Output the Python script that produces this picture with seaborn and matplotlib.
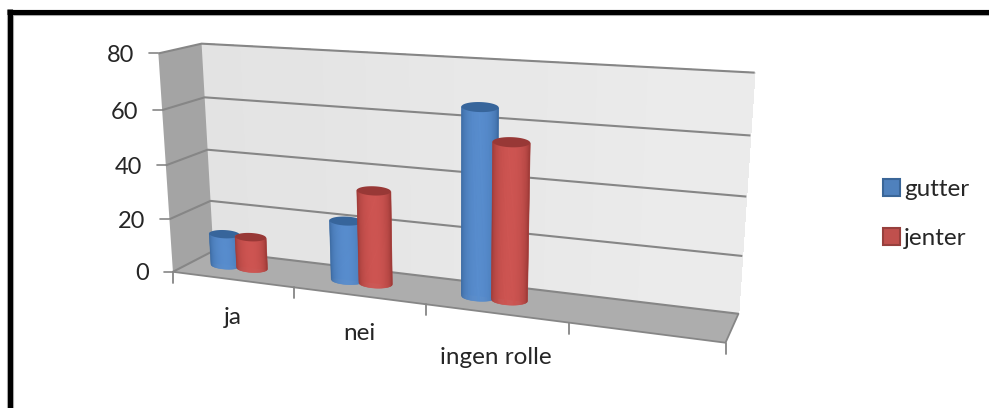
import numpy as np
import pandas as pd
import seaborn as sns
import matplotlib
matplotlib.use("Agg")
import matplotlib.pyplot as plt
from matplotlib.transforms import Transform
from matplotlib.colors import to_rgb

# Survey answers, in percent, per category and group
categories = ["ja", "nei", "ingen rolle", " "]
gutter = [12, 22, 66, 0]
jenter = [12, 34, 55, 0]
y_ticks = [0, 20, 40, 60, 80]
group_names = ["gutter", "jenter"]

BLUE = "#4F81BD"
RED = "#C0504D"
GRID = "#868686"
INK = "#262626"

# Box coordinates (category position, depth, value fraction) and where they land on the canvas,
# used to solve the camera of the oblique 3D view.
box_ref = np.array([
    [0, 0, 0, 174, 272], [0, 0, .25, 169, 219], [0, 0, .5, 166, 166], [0, 0, .75, 162, 110], [0, 0, 1, 158, 54],
    [0, 1, 0, 213, 253], [0, 1, .25, 211, 200], [0, 1, .5, 207, 149], [0, 1, .75, 205, 97], [0, 1, 1, 202, 43],
    [4, 1, 0, 738, 313], [4, 1, .25, 742, 256], [4, 1, .5, 747, 197], [4, 1, .75, 751, 136], [4, 1, 1, 754, 73],
    [4, 0, 0, 727, 343], [1, 0, 0, 294, 287], [2, 0, 0, 426, 304], [3, 0, 0, 568, 322],
], dtype=float)

# Clusters sit a little left of the slot centre
SLOT_SHIFT = 0.39


def solve_camera(ref):
    rows, rhs = [], []
    for X, Y, Z, u, v in ref:
        rows.append([X, Y, Z, 1, 0, 0, 0, 0, -u * X, -u * Y, -u * Z])
        rhs.append(u)
        rows.append([0, 0, 0, 0, X, Y, Z, 1, -v * X, -v * Y, -v * Z])
        rhs.append(v)
    sol = np.linalg.lstsq(np.array(rows), np.array(rhs), rcond=None)[0]
    return np.append(sol, 1).reshape(3, 4)


CAM = solve_camera(box_ref)


def project(x, depth, frac):
    pts = np.stack([np.asarray(x, float), np.asarray(depth, float), np.asarray(frac, float),
                    np.ones_like(np.asarray(x, float))], axis=-1)
    h = pts @ CAM.T
    return h[..., :2] / h[..., 2:3]


class BarPlane(Transform):
    """Maps (category position, value) onto the mid-depth plane of the 3D box."""
    input_dims = output_dims = 2
    is_separable = False
    has_inverse = False

    def transform_non_affine(self, values):
        values = np.asarray(values, float)
        return project(values[:, 0] + SLOT_SHIFT, np.full(len(values), 0.5), values[:, 1] / 80)


sns.set_theme(style="white")
plt.rcParams["font.family"] = ["Lato", "DejaVu Sans"]
plt.rcParams["text.color"] = INK

frame = pd.DataFrame({
    "category": categories * 2,
    "group": np.repeat(group_names, len(categories)),
    "value": gutter + jenter,
})

fig = plt.figure(figsize=(9.89, 4.08), dpi=100, facecolor="white")
ax = fig.add_axes([0, 0, 1, 1])
sns.barplot(data=frame, x="category", y="value", hue="group", hue_order=group_names,
            palette=[BLUE, RED], width=0.44, gap=-0.18, saturation=1, linewidth=0, ax=ax, zorder=3)
ax.set_autoscale_on(False)
ax.set_xlim(0, 989)
ax.set_ylim(408, 0)
ax.axis("off")


def poly(points, **kw):
    points = np.asarray(points)
    ax.fill(points[:, 0], points[:, 1], **kw)


def mix(a, b, t):
    a, b = np.array(to_rgb(a)), np.array(to_rgb(b))
    return tuple(a + (b - a) * t)


# Box: back wall, side wall and floor
steps = 12
for i in range(steps):
    a, b = 4 * i / steps, 4 * (i + 1) / steps
    poly(project([a, b, b, a], [1] * 4, [0, 0, 1, 1]), color=mix("#E3E3E3", "#ECECEC", i / steps),
         lw=0.5, antialiased=False, zorder=1)
poly(project([0] * 4, [0, 1, 1, 0], [0, 0, 1, 1]), color="#A4A4A4", lw=0, zorder=1.05)
poly(project([0, 4, 4, 0], [0, 0, 1, 1], [0, 0, 0, 0]), color="#ADADAD", lw=0, zorder=1.1)

# Gridlines run along the back wall and the side wall
for tick in y_ticks:
    f = tick / 80
    line = project([0, 0, 4], [0, 1, 1], [f, f, f])
    ax.plot(line[:, 0], line[:, 1], color=GRID, lw=1.5, zorder=1.5, solid_capstyle="butt")
    start = project(0, 0, f)
    ax.plot([start[0] - 9, start[0]], [start[1], start[1]], color=GRID, lw=1.2, zorder=1.5)
    ax.text(start[0] - 24, start[1], str(tick), ha="right", va="center_baseline", fontsize=17)

# Front edge of the floor with its category ticks and labels
edge = project([0, 4, 4], [0, 0, 1], [0, 0, 0])
ax.plot(edge[:, 0], edge[:, 1], color=GRID, lw=1.3, zorder=1.5)
for i in range(len(categories) + 1):
    p = project(i, 0, 0)
    ax.plot([p[0], p[0]], [p[1], p[1] + 11], color=GRID, lw=1.3, zorder=1.5)
label_drop = [38, 38, 44, 38]
for i, label in enumerate(categories):
    p = project(i + 0.5, 0, 0)
    ax.text(p[0], p[1] + label_drop[i], label, ha="center", va="center", fontsize=17.5)


def cylinder(bar, base, shade, cap, z):
    """Shade one seaborn bar as a cylinder standing on the floor."""
    x0, x1 = bar.get_x(), bar.get_x() + bar.get_width()
    frac = bar.get_height() / 80
    if frac == 0:
        bar.set_visible(False)
        return
    bar.set_transform(BarPlane() + ax.transData)
    bar.set_zorder(z)
    x0s, x1s = x0 + SLOT_SHIFT, x1 + SLOT_SHIFT
    lo_l, lo_r = project(x0s, .5, 0), project(x1s, .5, 0)
    hi_l, hi_r = project(x0s, .5, frac), project(x1s, .5, frac)
    lo_c, hi_c = (lo_l + lo_r) / 2, (hi_l + hi_r) / 2
    # The end discs tilt less than the box edges do
    flatten = np.array([1, 0.4])
    lo_a, hi_a = (lo_r - lo_l) / 2 * flatten, (hi_r - hi_l) / 2 * flatten
    ratio = 0.27
    cs = np.linspace(-1, 1, 33)
    sn = np.sqrt(1 - cs ** 2)
    lower = lo_c + np.outer(cs, lo_a) + np.outer(sn, [0, np.linalg.norm(lo_a) * ratio])
    upper = hi_c + np.outer(cs, hi_a) + np.outer(sn, [0, np.linalg.norm(hi_a) * ratio])
    for k in range(len(cs) - 1):
        light = np.sqrt(max(0, 1 - ((cs[k] + cs[k + 1]) / 2) ** 2)) ** 0.8
        poly([lower[k], lower[k + 1], upper[k + 1], upper[k]], color=mix(shade, base, light),
             lw=0.4, zorder=z + 0.1)
    ring = np.linspace(0, 2 * np.pi, 60)
    top = hi_c + np.outer(np.cos(ring), hi_a) + np.outer(np.sin(ring), [0, np.linalg.norm(hi_a) * ratio])
    poly(top, color=cap, lw=0, zorder=z + 0.2)


styles = [("#588DCE", "#2F5A8E", "#37659B"), ("#CE5552", "#8A2E2C", "#983836")]
for h, (container, style) in enumerate(zip(ax.containers, styles)):
    for n, bar in enumerate(container):
        cylinder(bar, *style, z=3 + n + h * 0.4)

# Heavy rule along the top and left of the picture, with its soft grey fringe
ax.plot([6.7, 6.7], [408, 9], color="#B5B5B5", lw=0.8, zorder=5.5)
ax.plot([12.6, 12.6], [408, 14.6], color="#B5B5B5", lw=0.8, zorder=5.5)
ax.plot([12.6, 989], [14.6, 14.6], color="#B5B5B5", lw=0.8, zorder=5.5)
ax.plot([9.5, 9.5], [408, 9], color="#000000", lw=3.7, zorder=6, solid_capstyle="butt")
ax.plot([7, 989], [11.5, 11.5], color="#000000", lw=3.7, zorder=6, solid_capstyle="butt")

sns.move_legend(ax, "upper left", bbox_to_anchor=(861 / 989, 1 - 157 / 408), frameon=False, title=None,
                fontsize=17.5, handlelength=0.7, handleheight=0.7, handletextpad=0.17, labelspacing=1.17)
legend = ax.get_legend()
for handle, edge_col in zip(legend.get_patches(), ["#3A6698", "#97403D"]):
    handle.set_edgecolor(edge_col)
    handle.set_linewidth(1.5)

fig.savefig("out.png", dpi=100, facecolor="white")
